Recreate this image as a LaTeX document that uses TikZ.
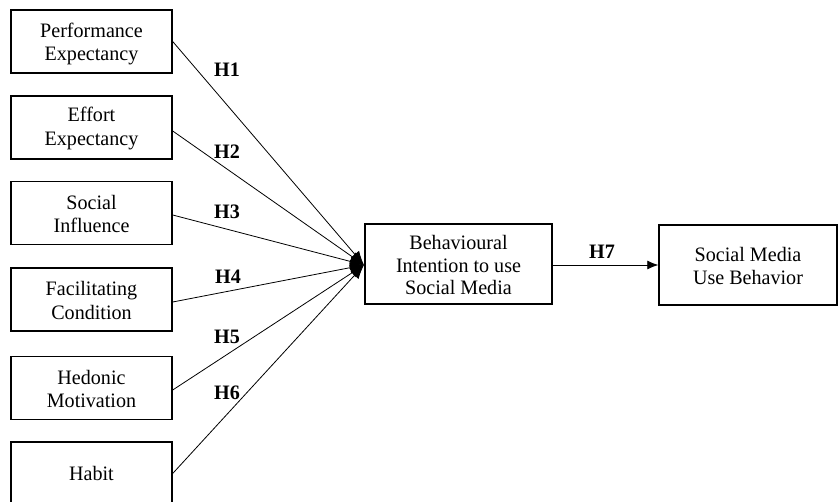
\documentclass[tikz,border=0pt]{standalone}
\usepackage{fontspec}
\setmainfont{Liberation Serif}[FakeStretch=0.98]
\usetikzlibrary{arrows.meta}
\begin{document}
\begin{tikzpicture}[x=1pt,y=-1pt,
  box/.style={draw,line width=1.4pt,rectangle,inner sep=0pt},
  small/.style={box,minimum width=161pt,minimum height=63pt},
  txt/.style={align=center,inner sep=0pt,font=\fontsize{20.5}{23.5}\selectfont},
  link/.style={line width=0.8pt,-{Latex[length=11pt,width=9pt]}},
  fan/.style={line width=0.8pt,-{Latex[length=14pt,width=11pt]}},
  hyp/.style={font=\fontsize{20.5}{22}\selectfont\bfseries,inner sep=0pt}]
\useasboundingbox (0,0) rectangle (839,502);
\node[small] (PE) at (91.5,41.5) {};
\node[small] (EE) at (91.5,127.5) {};
\node[small] (SI) at (91.5,213) {};
\node[small] (FC) at (91.5,299.5) {};
\node[small] (HM) at (91.5,388) {};
\node[small] (HB) at (91.5,473.5) {};
\node[box,minimum width=187pt,minimum height=80pt] (BI) at (458.5,264) {};
\node[box,minimum width=178pt,minimum height=80pt] (SM) at (748,265) {};
\node[txt] (PEt) at ([yshift=-2.5pt]PE.center) {Performance\\Expectancy};
\node[txt] (EEt) at ([yshift=-1pt]EE.center) {Effort\\Expectancy};
\node[txt] (SIt) at ([yshift=-1pt]SI.center) {Social\\Influence};
\node[txt] (FCt) at ([yshift=-1pt]FC.center) {Facilitating\\Condition};
\node[txt] (HMt) at ([yshift=-1pt]HM.center) {Hedonic\\Motivation};
\node[txt] (HBt) at (HB.center) {Habit};
\node[txt,font=\fontsize{20.5}{22.5}\selectfont] (BIt) at ([yshift=-1pt]BI.center) {Behavioural\\Intention to use\\Social Media};
\node[txt] (SMt) at ([yshift=-1pt]SM.center) {Social Media\\Use Behavior};
\coordinate (T) at (364,265);
\draw[fan] (PE.east) -- (T);
\draw[fan] ([yshift=-3.5pt]EE.east) -- (T);
\draw[fan] ([yshift=-2pt]SI.east) -- (T);
\draw[fan] ([yshift=-2.5pt]FC.east) -- (T);
\draw[fan] ([yshift=-2pt]HM.east) -- (T);
\draw[fan] (HB.east) -- (T);
\draw[link] ([yshift=-1pt]BI.east) -- ([yshift=-1pt]BI.east -| SM.west);
\node[hyp] (H1) at (227,70) {H1};
\node[hyp] (H2) at (227,152) {H2};
\node[hyp] (H3) at (227,212) {H3};
\node[hyp] (H4) at (228,277) {H4};
\node[hyp] (H5) at (227,337) {H5};
\node[hyp] (H6) at (227,393) {H6};
\node[hyp] (H7) at (602,252) {H7};
\end{tikzpicture}
\end{document}
